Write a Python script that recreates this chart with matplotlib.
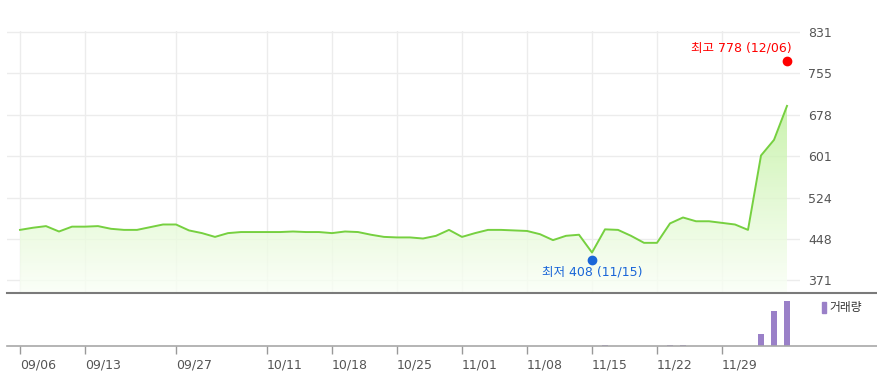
import numpy as np
import matplotlib
matplotlib.use("Agg")
import matplotlib.pyplot as plt
from matplotlib.lines import Line2D
from matplotlib.patches import Rectangle

plt.rcParams['font.family'] = ['DejaVu Sans', 'Noto Sans CJK KR']

# closing price per trading day (09/06 .. 12/06)
close = [464, 468, 471, 461, 470, 470, 471, 466, 464, 464,
         469, 474, 474, 463, 458, 451, 458, 460, 460, 460,
         460, 461, 460, 460, 458, 461, 460, 455, 451, 450,
         450, 448, 453, 464, 451, 458, 464, 464, 463, 462,
         456, 445, 453, 455, 422, 465, 464, 453, 440, 440,
         476, 487, 480, 480, 477, 474, 464, 602, 631, 694]
volume = [0] * 60
volume[45] = 18000
volume[50] = 15000
volume[51] = 18000
volume[57] = 265000
volume[58] = 780000
volume[59] = 1000000

tick_idx = [0, 5, 12, 19, 24, 29, 34, 39, 44, 49, 54]
tick_labels = ['09/06', '09/13', '09/27', '10/11', '10/18', '10/25',
               '11/01', '11/08', '11/15', '11/22', '11/29']
y_ticks = [371, 448, 524, 601, 678, 755, 831]

hi_val, hi_idx, hi_label = 778, 59, '최고 778 (12/06)'
lo_val, lo_idx, lo_label = 408, 44, '최저 408 (11/15)'

W, H = 877, 372
fig = plt.figure(figsize=(W / 100, H / 100), dpi=100)

def fx(px):
    return px / W

def fy(py):
    return 1 - py / H

ax = fig.add_axes([fx(7), fy(293), fx(800) - fx(7), fy(31) - fy(293)])
axv = fig.add_axes([fx(7), fy(346), fx(800) - fx(7), fy(293) - fy(346)])

x = np.arange(len(close))
ymin, ymax = 346.9, 833.0

# gradient fill under the line (a little see-through so the grid shows)
grad = np.linspace(0, 1, 256).reshape(-1, 1)
top_c = np.array([0.74, 0.94, 0.60])
bot_c = np.array([0.98, 1.0, 0.965])
img = bot_c + (top_c - bot_c) * grad[..., None] ** 1.1
img = img.reshape(256, 1, 3)
poly = ax.fill_between(x, close, ymin, color='none', lw=0)
im = ax.imshow(img, aspect='auto', origin='lower', alpha=0.8,
               extent=[0, len(close) - 1, ymin, 700], zorder=1)
path = poly.get_paths()[0]
im.set_clip_path(path, transform=ax.transData)

ax.plot(x, close, color='#76d040', lw=1.4, zorder=3)

ax.plot(hi_idx, hi_val, 'o', color='#ff0000', ms=6, zorder=4)
ax.annotate(hi_label, (hi_idx, hi_val), xytext=(5, 13), textcoords='offset pixels',
            ha='right', va='center', color='#ff0000', fontsize=9)
ax.plot(lo_idx, lo_val, 'o', color='#1a66d8', ms=6, zorder=4)
ax.annotate(lo_label, (lo_idx, lo_val), xytext=(0, -12), textcoords='offset pixels',
            ha='center', va='center', color='#1a66d8', fontsize=9)

ax.set_xlim(-1, 60)
ax.set_ylim(ymin, ymax)
ax.set_yticks(y_ticks)
ax.set_yticklabels([str(v) for v in y_ticks])
ax.yaxis.tick_right()
ax.tick_params(axis='y', length=0, pad=6, labelsize=9, labelcolor='#555555')
ax.set_xticks(tick_idx)
ax.tick_params(axis='x', length=0, labelbottom=False)
ax.grid(True, color='#ececec', lw=1)
ax.set_axisbelow(True)
for s in ax.spines.values():
    s.set_visible(False)

axv.bar(x, volume, width=0.42, color='#9a80c8')
axv.set_xlim(-1, 60)
axv.set_ylim(0, 1.17e6)
axv.set_yticks([])
axv.set_xticks(tick_idx)
axv.set_xticklabels(tick_labels, ha='left')
axv.tick_params(axis='x', length=6, width=1, color='#999999', direction='out',
                pad=3, labelsize=9, labelcolor='#555555')
for s in axv.spines.values():
    s.set_visible(False)

# panel separators reaching the right edge
fig.add_artist(Line2D([fx(7), 1], [fy(293), fy(293)], color='#7a7a7a', lw=1.5))
fig.add_artist(Line2D([fx(7), 1], [fy(346), fy(346)], color='#a8a8a8', lw=1.2))

# volume legend
fig.add_artist(Rectangle((fx(822), fy(313)), fx(4), fy(302) - fy(313),
                         color='#9a80c8', transform=fig.transFigure))
fig.text(fx(829), fy(308), '거래량', fontsize=8.5, color='#333333', va='center')

fig.savefig('out.png', dpi=100)
